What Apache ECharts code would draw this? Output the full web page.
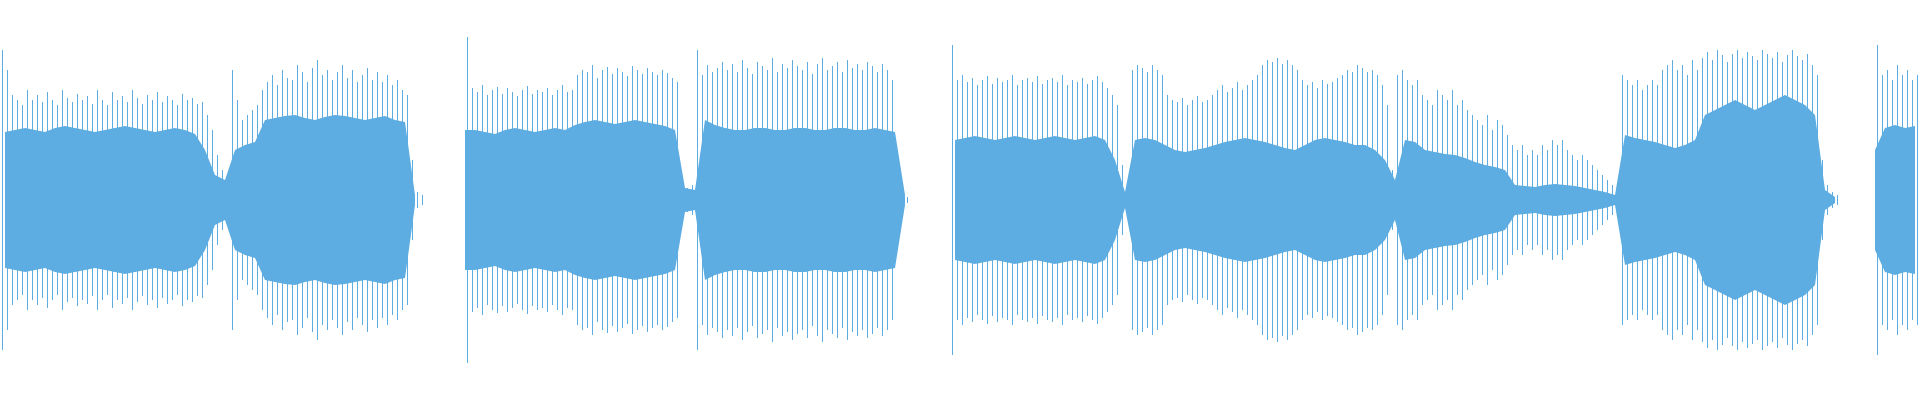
<!DOCTYPE html>
<html><head><meta charset="utf-8">
<script src="https://cdn.jsdelivr.net/npm/echarts@6/dist/echarts.min.js"></script>
<style>html,body{margin:0;padding:0;background:#fff}#c{width:1920px;height:400px}</style>
</head><body><div id="c"></div>
<script>
// peak amplitude per 5-sample column
const outerPeaks = [150,
130,105,100,95,110,100,105,98,108,100,95,110,102,98,106,100,104,96,110,100,95,108,100,104,98,110,102,96,105,100,108,98,104,100,95,106,100,102,96,98,
85,70,45,30,25,
130,100,80,85,90,95,
110,118,125,115,130,122,120,135,128,118,132,140,125,130,120,128,135,122,130,118,125,132,120,128,118,125,115,120,110,105,
40,8,5,
0,0,0,0,0,0,0,0,
163,
112,108,115,105,110,113,106,112,108,104,110,114,106,110,108,112,105,110,115,108,110,
125,130,128,135,122,130,133,126,132,128,124,134,130,126,132,128,125,130,127,122,118,
20,12,15,
150,
125,135,128,132,138,130,136,128,140,132,126,138,134,130,142,128,136,132,140,134,130,138,126,136,142,130,134,138,128,140,132,136,130,138,134,128,136,130,120,
50,10,3,
0,0,0,0,0,0,0,0,
155,
120,125,118,122,115,120,124,116,122,118,120,125,115,120,122,118,124,116,120,122,118,125,115,120,118,122,116,120,124,118,112,105,95,
35,12,
130,135,132,128,135,130,125,
105,100,98,102,95,100,104,98,100,105,
110,115,108,112,118,110,115,120,125,
135,140,138,142,136,140,135,130,
120,115,118,112,120,116,118,122,
125,130,128,135,132,128,130,125,115,95,
30,
125,130,120,115,120,
105,100,95,110,105,100,110,95,100,90,
85,80,75,85,70,80,75,65,
55,50,55,45,50,45,55,50,
60,55,60,50,
45,40,45,40,35,
30,25,20,15,10,
125,120,115,120,110,115,120,115,
130,135,140,130,135,125,140,130,
142,148,140,150,145,138,146,150,142,148,144,140,150,146,142,148,138,145,150,144,140,146,135,125,
40,15,8,5,
0,0,0,0,0,0,0,
155,
125,130,120,135,125,130,120,125];
// dense body amplitude per 10-sample block
const bodyLevels = [68,70,72,70,68,72,74,72,70,68,70,72,74,72,70,68,70,72,70,66,
50,25,20,
50,55,58,
80,82,84,85,82,80,83,85,84,82,80,82,84,80,78,
5,
0,0,0,0,
70,
70,68,66,70,72,70,68,70,72,70,
75,78,80,78,76,78,80,78,76,74,70,
12,10,
80,75,72,70,70,72,72,70,70,72,72,70,70,72,72,70,70,72,70,68,
5,
0,0,0,0,
60,
62,64,62,60,62,64,62,60,62,64,62,60,62,64,60,
40,8,
60,62,60,55,50,48,50,52,55,58,60,62,60,58,55,52,50,55,60,62,60,58,55,55,50,40,
20,
60,58,
50,48,46,45,42,
38,35,33,30,
15,14,13,15,16,15,14,12,10,8,5,
65,62,60,58,55,52,55,60,
85,90,95,100,95,90,95,100,105,100,95,85,
10,3,
0,0,0,
50,72,75,72,74];
const outerStep = 5, bodyStep = 10;
const color = '#5dade2';
const outerData = outerPeaks.map((v,i)=>[i*outerStep+2, v]);
const bodyTop = bodyLevels.map((v,i)=>[i*bodyStep+bodyStep/2, v===0?null:v]);
const bodyBot = bodyLevels.map((v,i)=>[i*bodyStep+bodyStep/2, v===0?null:-v]);
const areaLine = d => ({type:'line',data:d,showSymbol:false,symbol:'none',connectNulls:false,lineStyle:{width:0},
  areaStyle:{color:color,opacity:1,origin:0},silent:true});
const chart = echarts.init(document.getElementById('c'));
chart.setOption({
  animation:false,
  grid:{left:0,right:0,top:0,bottom:0},
  xAxis:{type:'value',min:0,max:1920,show:false},
  yAxis:{type:'value',min:-200,max:200,show:false},
  series:[
    areaLine(bodyTop), areaLine(bodyBot),
    {type:'custom',data:outerData,encode:{x:0,y:1},renderItem:(p,api)=>{
      const a=api.value(1); if(!a) return null; const x=api.value(0);
      const p1=api.coord([x,a]), p2=api.coord([x,-a]);
      return {type:'line',shape:{x1:Math.round(p1[0])+0.5,y1:p1[1],x2:Math.round(p1[0])+0.5,y2:p2[1]},style:{stroke:color,lineWidth:1}};
    }}
  ]
});
</script></body></html>
